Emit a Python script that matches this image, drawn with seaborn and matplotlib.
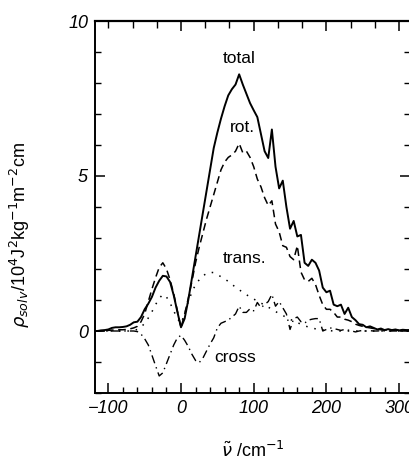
import numpy as np
import pandas as pd
import matplotlib
matplotlib.use("Agg")
import matplotlib.pyplot as plt
from matplotlib.ticker import MultipleLocator, FixedLocator, NullFormatter, FuncFormatter
import seaborn as sns

# wavenumber grid (cm^-1)
wavenumber = list(range(-120, 320, 5))

total = [0.0, 0.0, 0.02, 0.03, 0.05, 0.1, 0.12, 0.12, 0.13, 0.15,
         0.2, 0.28, 0.3, 0.45, 0.7, 0.88, 1.1, 1.4, 1.62, 1.78,
         1.76, 1.58, 1.15, 0.62, 0.12, 0.4, 1.0, 1.7, 2.4, 3.1,
         3.8, 4.5, 5.2, 5.9, 6.4, 6.85, 7.25, 7.6, 7.8, 7.95,
         8.28, 7.95, 7.65, 7.35, 7.12, 6.9, 6.35, 5.8, 5.58, 6.5,
         5.3, 4.6, 4.85, 4.0, 3.3, 3.55, 3.05, 3.1, 2.2, 2.1,
         2.3, 2.2, 1.95, 1.4, 1.25, 1.3, 0.85, 0.8, 0.85, 0.55,
         0.75, 0.45, 0.35, 0.22, 0.2, 0.12, 0.15, 0.1, 0.05, 0.08,
         0.03, 0.06, 0.03, 0.05, 0.02, 0.04, 0.03, 0.03]

rot = [0.0, 0.0, 0.01, 0.02, 0.02, 0.03, 0.03, 0.04, 0.04, 0.05,
       0.07, 0.1, 0.15, 0.3, 0.55, 0.95, 1.35, 1.72, 2.05, 2.2,
       2.0, 1.65, 1.2, 0.65, 0.1, 0.55, 1.05, 1.6, 2.2, 2.7,
       3.15, 3.6, 4.0, 4.4, 4.8, 5.2, 5.45, 5.6, 5.68, 5.8,
       6.05, 5.75, 5.8, 5.6, 5.3, 4.9, 4.65, 4.3, 4.05, 4.2,
       3.45, 3.2, 2.75, 2.7, 2.4, 2.3, 2.75, 1.9, 1.65, 1.6,
       1.7, 1.5, 1.15, 0.85, 0.7, 0.7, 0.6, 0.45, 0.45, 0.38,
       0.35, 0.3, 0.22, 0.18, 0.15, 0.12, 0.1, 0.08, 0.05, 0.04,
       0.03, 0.04, 0.02, 0.03, 0.02, 0.03, 0.02, 0.02]

trans = [0.0, 0.0, 0.0, 0.0, 0.0, 0.0, 0.0, 0.0, 0.0, 0.0,
         0.0, 0.02, 0.05, 0.12, 0.25, 0.42, 0.62, 0.85, 1.05, 1.18,
         1.1, 0.9, 0.65, 0.4, 0.25, 0.55, 0.95, 1.25, 1.5, 1.65,
         1.78, 1.85, 1.9, 1.88, 1.82, 1.75, 1.68, 1.6, 1.5, 1.42,
         1.33, 1.25, 1.17, 1.1, 1.03, 0.97, 0.9, 0.84, 0.77, 0.7,
         0.63, 0.56, 0.5, 0.44, 0.38, 0.32, 0.27, 0.22, 0.17, 0.13,
         0.1, 0.07, 0.05, 0.03, 0.02, 0.01, 0.0, 0.0, 0.0, 0.0,
         0.0, 0.0, 0.0, 0.0, 0.0, 0.0, 0.0, 0.0, 0.0, 0.0,
         0.0, 0.0, 0.0, 0.0, 0.0, 0.0, 0.0, 0.0]

cross = [0.0, 0.0, 0.0, 0.0, 0.0, 0.0, 0.0, 0.0, 0.0, 0.0,
         0.0, 0.0, -0.02, -0.1, -0.25, -0.45, -0.78, -1.12, -1.45, -1.35,
         -1.05, -0.75, -0.45, -0.22, -0.14, -0.3, -0.5, -0.75, -0.95, -1.02,
         -0.88, -0.65, -0.42, -0.22, 0.1, 0.25, 0.3, 0.35, 0.45, 0.55,
         0.8, 0.6, 0.6, 0.72, 0.65, 0.92, 0.75, 0.85, 0.95, 1.18,
         0.8, 0.95, 0.75, 0.55, 0.05, 0.4, 0.45, 0.3, 0.25, 0.35,
         0.38, 0.4, 0.4, 0.0, 0.05, 0.1, 0.08, 0.05, 0.02, 0.05,
         0.03, 0.0, -0.03, 0.0, 0.02, 0.0, 0.01, 0.0, 0.0, 0.01,
         0.0, 0.0, 0.0, 0.0, 0.0, 0.0, 0.0, 0.0]

labels = ["total", "rot.", "trans.", "cross"]
label_x = [80, 84, 88, 74]
label_y = [8.8, 6.57, 2.35, -0.85]

sns.set_style("ticks")
plt.rcParams['font.family'] = ['Liberation Sans', 'DejaVu Sans']
plt.rcParams['mathtext.fontset'] = 'dejavusans'
for k in ['text.color', 'axes.labelcolor', 'axes.edgecolor',
          'xtick.color', 'ytick.color']:
    plt.rcParams[k] = 'black'

fig = plt.figure(figsize=(4.09, 4.71), dpi=100)
ax = fig.add_axes([95/409, 1 - 393/471, 315/409, 372/471])

df = pd.DataFrame({"x": wavenumber, "total": total, "rot": rot,
                   "trans": trans, "cross": cross})

sns.lineplot(data=df, x="x", y="total", ax=ax, color="black", lw=1.4,
             linestyle="-", estimator=None, sort=False)
sns.lineplot(data=df, x="x", y="rot", ax=ax, color="black", lw=1.1,
             linestyle=(0, (5, 3)), estimator=None, sort=False)
sns.lineplot(data=df, x="x", y="trans", ax=ax, color="black", lw=1.1,
             linestyle=(0, (1, 4.5)), estimator=None, sort=False)
sns.lineplot(data=df, x="x", y="cross", ax=ax, color="black", lw=1.0,
             linestyle=(0, (6, 3, 1, 3)), estimator=None, sort=False)

for t, x, y in zip(labels, label_x, label_y):
    ax.text(x, y, t, ha="center", va="center", fontsize=12.5, color="black")

ax.set_xlim(-118.3, 315)
ax.set_ylim(-2, 10)

ax.xaxis.set_major_locator(FixedLocator([-100, 0, 100, 200, 300]))
ax.xaxis.set_minor_locator(MultipleLocator(20))
ax.yaxis.set_major_locator(FixedLocator([0, 5, 10]))
ax.yaxis.set_minor_locator(MultipleLocator(1))

ax.xaxis.set_major_formatter(FuncFormatter(lambda v, p: f"{int(v)}".replace("-", "\u2212")))
ax.tick_params(axis="both", which="major", direction="in", length=7, width=1.1,
               labelsize=13, top=False, right=True, pad=5, colors="black")
ax.tick_params(axis="both", which="minor", direction="in", length=4, width=1.0,
               top=False, right=True, colors="black")
for lab in ax.get_xticklabels() + ax.get_yticklabels():
    lab.set_fontstyle("italic")

sec = ax.secondary_xaxis("top")
sec.xaxis.set_major_locator(FixedLocator([0, 100, 200, 300]))
sec.xaxis.set_minor_locator(FixedLocator(np.arange(-100, 320, 100/3)))
sec.xaxis.set_major_formatter(NullFormatter())
sec.tick_params(which="major", direction="in", length=7, width=1.1, colors="black")
sec.tick_params(which="minor", direction="in", length=5, width=1.0, colors="black")
sec.spines["top"].set_linewidth(1.6)
sec.spines["top"].set_color("black")

for s in ax.spines.values():
    s.set_linewidth(1.4)
    s.set_color("black")

ax.set_xlabel(r"$\tilde{\nu}$ /cm$^{-1}$", fontsize=13)
ax.xaxis.set_label_coords(0.5, -0.13)
ax.set_ylabel(r"$\rho_{\mathit{solv}}$/10$^4$J$^2$kg$^{-1}$m$^{-2}$cm", fontsize=13)
ax.yaxis.set_label_coords(-0.20, 0.425)

fig.savefig("out.png", dpi=100)
